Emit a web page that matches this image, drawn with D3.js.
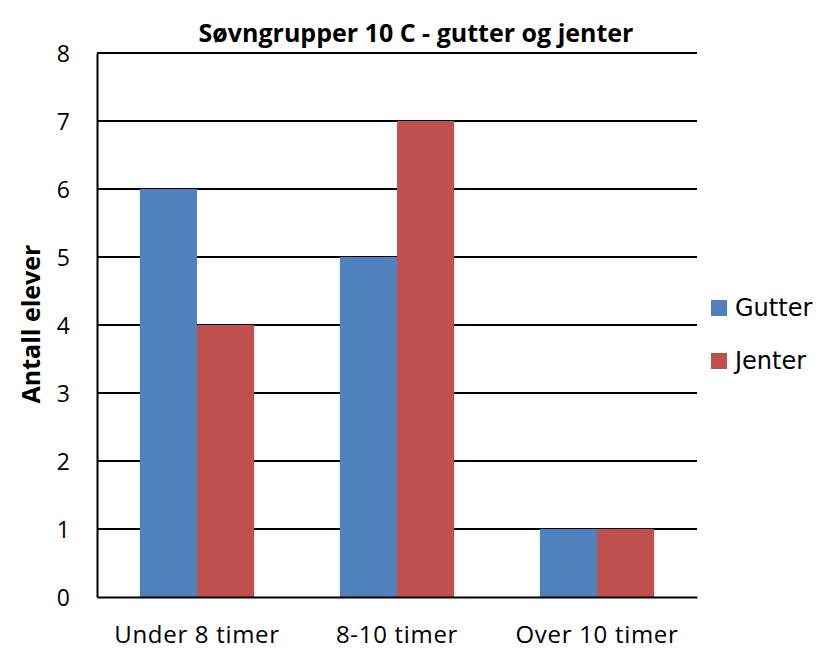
<!DOCTYPE html>
<html><head><meta charset="utf-8">
<script src="https://cdn.jsdelivr.net/npm/d3@7"></script>
<style>body{margin:0;background:#fff}svg{display:block}text{font-family:"Open Sans",sans-serif;fill:#000}</style>
</head><body>
<svg id="c" width="830" height="664"></svg>
<script>
const categories = ["Under 8 timer", "8-10 timer", "Over 10 timer"];
const seriesNames = ["Gutter", "Jenter"];
const gutter = [6, 5, 1];
const jenter = [4, 7, 1];
const yTicks = [0, 1, 2, 3, 4, 5, 6, 7, 8];
const colors = ["#4F81BD", "#C0504D"];
const title = "Søvngrupper 10 C - gutter og jenter";
const yTitle = "Antall elever";

const svg = d3.select("#c");
const m = {l: 97, r: 697, t: 53, b: 597};
const x = d3.scaleBand().domain(categories).range([m.l, m.r]).paddingInner(0).paddingOuter(0);
const x1 = d3.scaleBand().domain(seriesNames).range([0, x.bandwidth()]).paddingInner(0).paddingOuter(0.75);
const y = d3.scaleLinear().domain([0, 8]).range([m.b, m.t]);

// gridlines
svg.append("g").selectAll("line").data(yTicks.filter(d => d > 0)).join("line")
  .attr("x1", m.l).attr("x2", m.r).attr("y1", d => y(d)).attr("y2", d => y(d))
  .attr("stroke", "#000").attr("stroke-width", 2);

const data = categories.map((c, i) => ({c, vals: [gutter[i], jenter[i]]}));
svg.append("g").selectAll("g").data(data).join("g")
  .attr("transform", d => `translate(${x(d.c)},0)`)
  .selectAll("rect").data(d => d.vals.map((v, j) => ({s: seriesNames[j], v, j}))).join("rect")
  .attr("x", d => x1(d.s)).attr("width", x1.bandwidth())
  .attr("y", d => y(d.v)).attr("height", d => y(0) - y(d.v))
  .attr("fill", d => colors[d.j]);

// axes
const yAxis = d3.axisLeft(y).tickValues(yTicks).tickSize(0).tickPadding(27);
const gy = svg.append("g").attr("transform", `translate(${m.l},0)`).call(yAxis);
gy.select(".domain").attr("stroke", "#000").attr("stroke-width", 2);
gy.selectAll("text").style("font-size", "23px").attr("dy", "0.36em");

const xAxis = d3.axisBottom(x).tickSize(0).tickPadding(0);
const gx = svg.append("g").attr("transform", `translate(0,${m.b})`).call(xAxis);
gx.select(".domain").attr("stroke", "#000").attr("stroke-width", 2);
gx.selectAll("text").attr("y", 46).attr("dy", 0).style("font-size", "24px").style("letter-spacing", "0.7px");

// title
svg.append("text").attr("x", 416).attr("y", 42).attr("text-anchor", "middle")
  .style("font-size", "25px").style("font-weight", "bold").text(title);
svg.append("text").attr("transform", "translate(40,324) rotate(-90)").attr("text-anchor", "middle")
  .style("font-size", "25px").style("font-weight", "bold").text(yTitle);

// legend
const lg = svg.append("g").selectAll("g").data(seriesNames).join("g")
  .attr("transform", (d, i) => `translate(711,${300 + i * 53})`);
lg.append("rect").attr("width", 16).attr("height", 16).attr("fill", (d, i) => colors[i]);
lg.append("text").attr("x", 24).attr("y", 16).style("font-family", "'DejaVu Sans', sans-serif")
  .style("font-size", "24px").text(d => d);
</script>
</body></html>
